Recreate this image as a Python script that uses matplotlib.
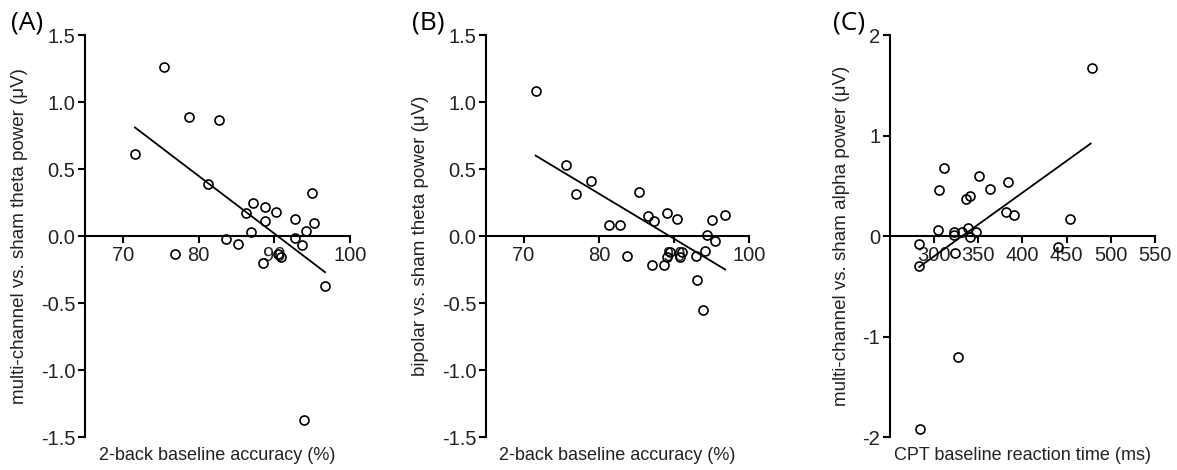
import numpy as np
import matplotlib
matplotlib.use("Agg")
import matplotlib.pyplot as plt

plt.rcParams['font.family'] = ['Liberation Sans', 'DejaVu Sans']
plt.rcParams['axes.unicode_minus'] = False

# ── Panel A: 2-back accuracy vs multi-channel theta ─────────────────────────
a_x = [71.6, 75.4, 76.9, 78.8, 81.3, 82.7, 83.6, 85.2, 86.3, 86.9, 87.2, 88.5,
       88.8, 88.8, 90.2, 90.5, 90.9, 92.7, 92.7, 93.6, 93.9, 94.2, 95.0, 95.3, 96.7]
a_y = [0.61, 1.26, -0.135, 0.89, 0.39, 0.865, -0.025, -0.06, 0.175, 0.03, 0.25, -0.20,
       0.22, 0.115, 0.178, -0.135, -0.155, 0.13, -0.018, -0.068, -1.375, 0.038, 0.32, 0.10, -0.37]
a_fit_x = [71.6, 96.7]
a_fit_y = [0.81, -0.27]

# ── Panel B: 2-back accuracy vs bipolar theta ───────────────────────────────
b_x = [71.6, 75.6, 77.0, 79.0, 81.4, 82.8, 83.7, 85.3, 86.5, 87.1, 87.4, 88.7, 89.0,
       89.1, 89.4, 90.4, 90.8, 91.1, 92.9, 93.0, 93.8, 94.1, 94.4, 95.1, 95.5, 96.8]
b_y = [1.08, 0.53, 0.31, 0.41, 0.08, 0.08, -0.15, 0.33, 0.15, -0.22, 0.11, -0.22, 0.175,
       -0.16, -0.12, 0.13, -0.155, -0.12, -0.15, -0.33, -0.55, -0.11, 0.005, 0.12, -0.04, 0.16]
b_fit_x = [71.6, 96.8]
b_fit_y = [0.60, -0.25]

# ── Panel C: CPT reaction time vs multi-channel alpha ───────────────────────
c_x = [283.2, 283.2, 284.0, 304.4, 305.4, 310.8, 322.3, 323.0, 323.5, 326.5, 331.1, 336.4,
       338.8, 340.7, 340.7, 347.2, 351.0, 362.9, 380.9, 383.2, 390.0, 439.8, 453.6, 478.5]
c_y = [-0.083, -0.30, -1.92, 0.06, 0.46, 0.68, 0.043, 0.007, -0.173, -1.207, 0.043, 0.37,
       0.077, 0.403, -0.007, 0.037, 0.593, 0.47, 0.237, 0.537, 0.21, -0.11, 0.17, 1.67]
c_fit_x = [283.2, 477.4]
c_fit_y = [-0.307, 0.92]

panels = [
    dict(x=a_x, y=a_y, fx=a_fit_x, fy=a_fit_y, xlim=(65, 100), xticks=[70, 80, 90, 100],
         ylim=(-1.5, 1.5), yticks=np.arange(-1.5, 1.51, 0.5), fmt='%.1f',
         xlabel='2-back baseline accuracy (%)',
         ylabel='multi-channel vs. sham theta power (\u03bcV)', tag='(A)',
         pos=[0.0722, 0.0702, 0.2252, 0.8553], ylx=-0.215, tagx=0.009),
    dict(x=b_x, y=b_y, fx=b_fit_x, fy=b_fit_y, xlim=(65, 100), xticks=[70, 80, 90, 100],
         ylim=(-1.5, 1.5), yticks=np.arange(-1.5, 1.51, 0.5), fmt='%.1f',
         xlabel='2-back baseline accuracy (%)',
         ylabel='bipolar vs. sham theta power (\u03bcV)', tag='(B)',
         pos=[0.4129, 0.0702, 0.2237, 0.8553], ylx=-0.215, tagx=0.350),
    dict(x=c_x, y=c_y, fx=c_fit_x, fy=c_fit_y, xlim=(250, 550),
         xticks=[300, 350, 400, 450, 500, 550],
         ylim=(-2, 2), yticks=[-2, -1, 0, 1, 2], fmt='%d',
         xlabel='CPT baseline reaction time (ms)',
         ylabel='multi-channel vs. sham alpha power (\u03bcV)', tag='(C)',
         pos=[0.7562, 0.0702, 0.2249, 0.8553], ylx=-0.15, tagx=0.708),
]

fig = plt.figure(figsize=(11.77, 4.70), dpi=100)

for p in panels:
    ax = fig.add_axes(p['pos'])
    ax.plot(p['x'], p['y'], 'o', ms=6.5, mfc='none', mec='black', mew=1.2,
            clip_on=False, zorder=3)
    ax.plot(p['fx'], p['fy'], color='black', lw=1.3, zorder=2)
    ax.set_xlim(*p['xlim']); ax.set_ylim(*p['ylim'])
    ax.set_xticks(p['xticks']); ax.set_yticks(p['yticks'])
    ax.yaxis.set_major_formatter(matplotlib.ticker.FormatStrFormatter(p['fmt']))
    for s in ['top', 'right']:
        ax.spines[s].set_visible(False)
    ax.spines['bottom'].set_position(('data', 0))
    for s in ['bottom', 'left']:
        ax.spines[s].set_linewidth(1.5)
    ax.tick_params(direction='out', length=5, width=1.5, labelsize=14.5, pad=2,
                   labelcolor='#222222')
    ax.set_xlabel(p['xlabel'], fontsize=13, color='#222222')
    ax.xaxis.set_label_coords(0.5, -0.026)
    ax.set_ylabel(p['ylabel'], fontsize=13.5, color='#222222')
    ax.yaxis.set_label_coords(p['ylx'], 0.5)
    ax.patch.set_visible(False)
    fig.text(p['tagx'], 0.925, p['tag'], fontsize=19, family=['Open Sans', 'DejaVu Sans'],
             va='bottom', ha='left')

fig.savefig('out.png', dpi=100)
